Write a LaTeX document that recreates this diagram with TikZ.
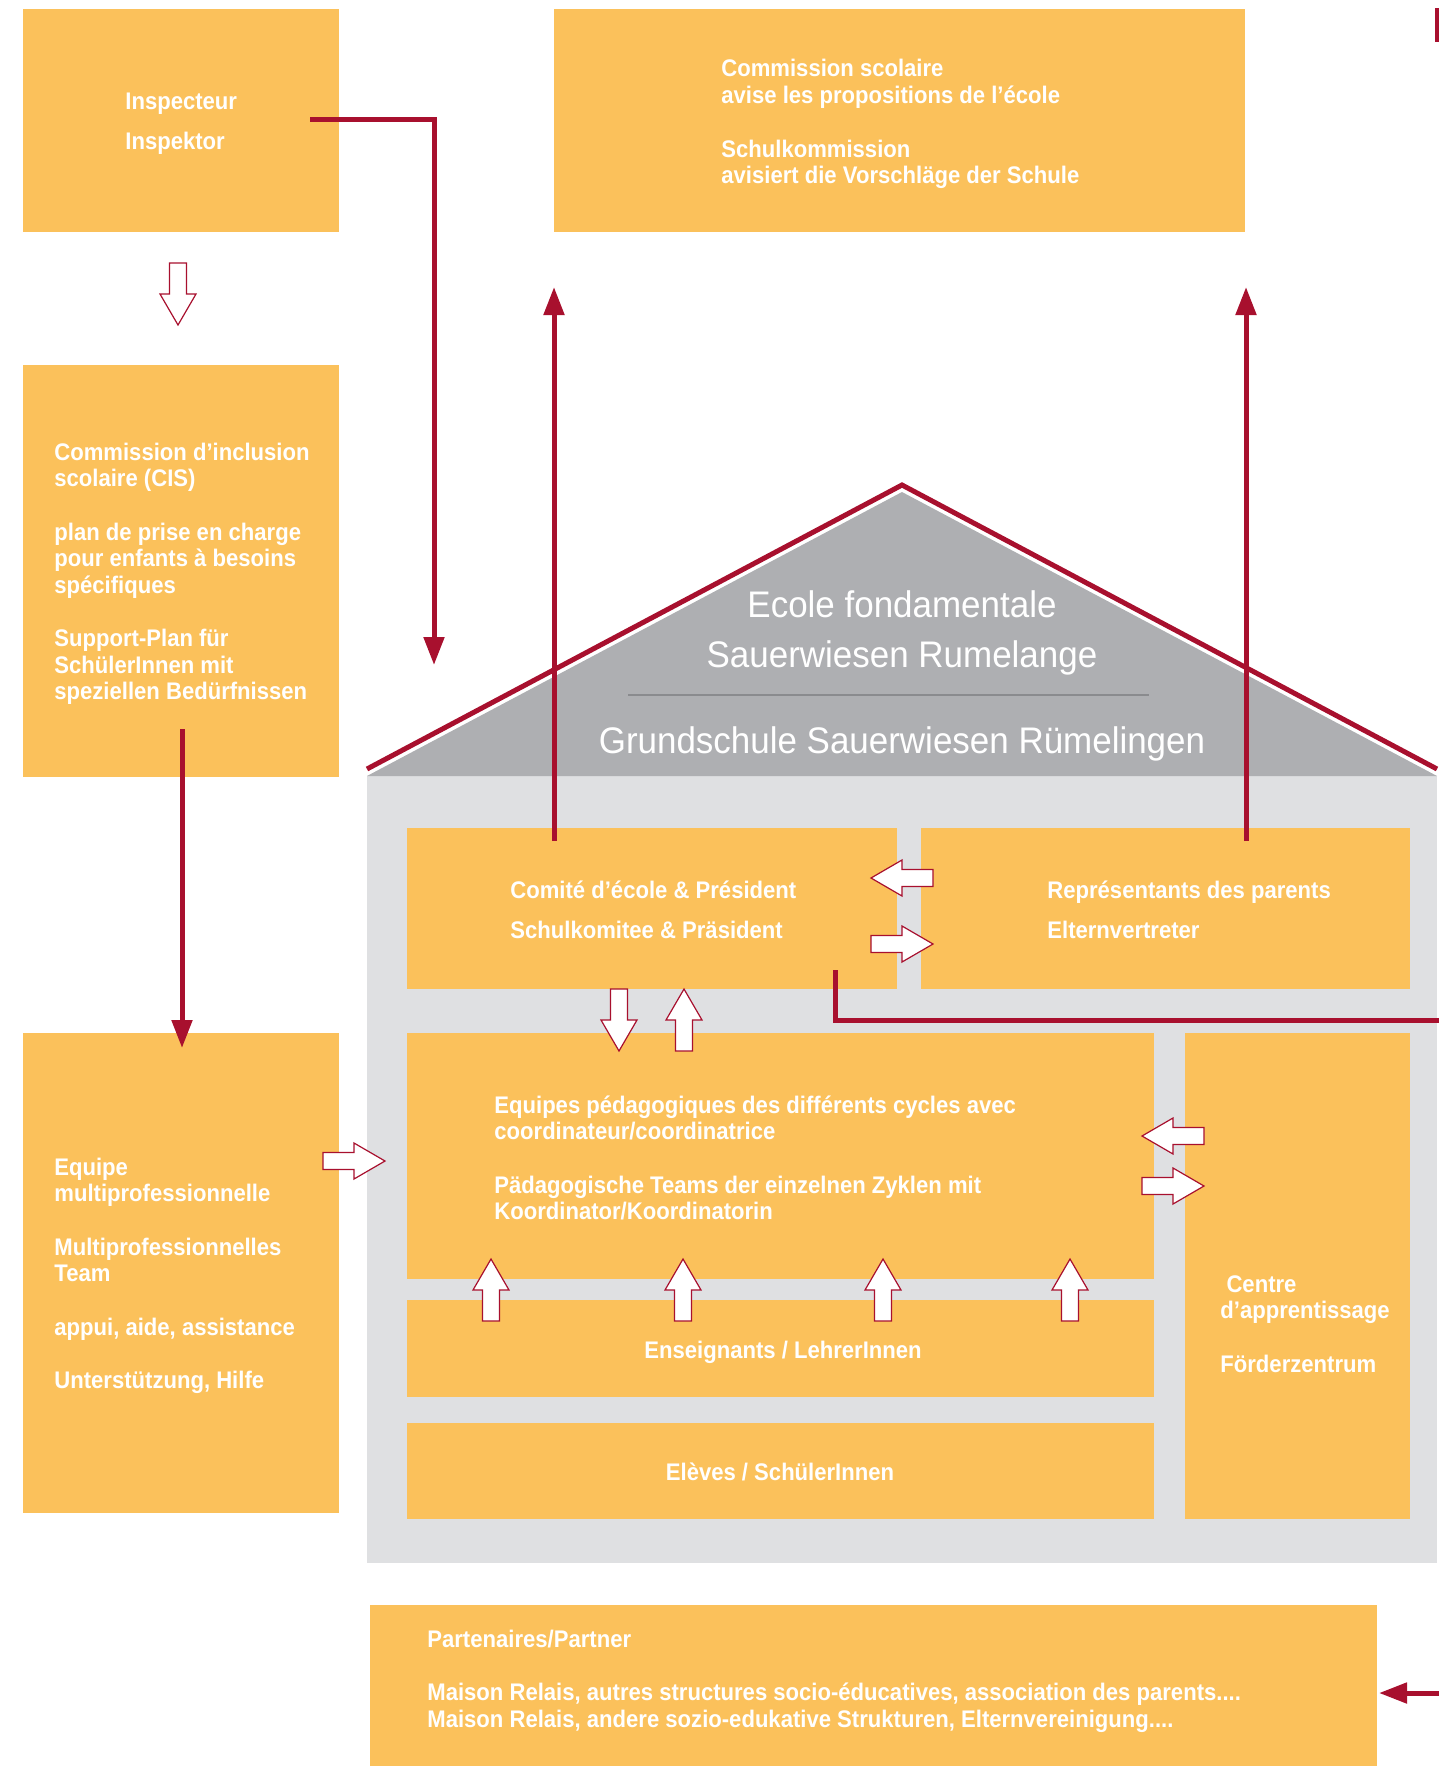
\documentclass[tikz,border=0pt]{standalone}
\usepackage{fontspec}
\setmainfont{Liberation Sans}[FakeStretch=0.92]
\newfontfamily\rooffont{Liberation Sans}[FakeStretch=0.945]
\usepackage{tikz}
\usetikzlibrary{arrows.meta,fit}
\definecolor{boxfill}{HTML}{FBC15B}
\definecolor{wallgrey}{HTML}{DFE0E2}
\definecolor{roofgrey}{HTML}{AEAFB2}
\definecolor{rulegrey}{HTML}{8A8B8E}
\definecolor{linered}{HTML}{A8102E}

\newcommand{\txtlines}[1]{\begin{tabular}[t]{@{}l@{}}#1\end{tabular}}
\newcommand{\blockarrow}[3]{%
  \draw[hollow,shift={(#1,#2)},rotate=#3] (0,-8.5) -- (31,-8.5) -- (31,-18)
    -- (62,0) -- (31,18) -- (31,8.5) -- (0,8.5) -- cycle;}

\tikzset{
  box/.style={fill=boxfill,inner sep=0pt},
  txt/.style={text=white,inner sep=0pt,anchor=base west,
    font=\fontsize{12}{13.25}\selectfont\bfseries},
  rooftxt/.style={text=white,inner sep=0pt,anchor=base,
    font=\rooffont\fontsize{18.5}{20}\selectfont},
  redline/.style={draw=linered,line width=2.5pt},
  redarrow/.style={redline,-{Triangle[length=14pt,width=10pt]}},
  hollow/.style={draw=linered,line width=0.6pt,fill=white}
}

\begin{document}
\begin{tikzpicture}[x=0.5pt,y=-0.5pt]
\useasboundingbox (0,0) rectangle (1439,1766);

% house
\node[fit={(367,776) (1437,1563)},fill=wallgrey,inner sep=0pt] (house) {};
\fill[roofgrey] (367,776) -- (902,492) -- (1437,776) -- cycle;
\draw[redline,line join=miter] (367,769) -- (902,485) -- (1437,769);
\draw[rulegrey,line width=1pt] (628,695) -- (1149,695);

% boxes
\node[box,fit={(23,9) (339,232)}] (insp) {};
\node[box,fit={(554,9) (1245,232)}] (comm) {};
\node[box,fit={(23,365) (339,777)}] (cis) {};
\node[box,fit={(23,1033) (339,1513)}] (multi) {};
\node[box,fit={(407,828) (897,989)}] (comite) {};
\node[box,fit={(921,828) (1410,989)}] (parents) {};
\node[box,fit={(407,1033) (1154,1279)}] (equipes) {};
\node[box,fit={(1185,1033) (1410,1519)}] (centre) {};
\node[box,fit={(407,1300) (1154,1397)}] (enseign) {};
\node[box,fit={(407,1423) (1154,1519)}] (eleves) {};
\node[box,fit={(370,1605) (1377,1766)}] (partner) {};

% red connectors
\coordinate (inspout) at (310,120);
\coordinate (roofin) at (434,665);
\coordinate (cisout) at (182,729);
\coordinate (multiin) at (182,1048);
\coordinate (comup) at (554,841);
\coordinate (comtop) at (554,287);
\coordinate (parup) at (1246,841);
\coordinate (partop) at (1246,287);
\coordinate (comout) at (835,970);
\coordinate (edgeA) at (1439,1020);
\coordinate (edgeB) at (1439,1693);
\coordinate (partin) at (1379,1693);
\draw[redarrow] (inspout) -| (roofin);
\draw[redarrow] (cisout) -- (multiin);
\draw[redarrow] (comup) -- (comtop);
\draw[redarrow] (parup) -- (partop);
\draw[redline] (comout) |- (edgeA);
\draw[redarrow] (edgeB) -- (partin);
\draw[redline] (1437.5,8) -- (1437.5,42);

% hollow arrows
\blockarrow{178}{263}{-90}
\blockarrow{323}{1161}{0}
\blockarrow{933}{878}{180}
\blockarrow{871}{944}{0}
\blockarrow{619}{989}{-90}
\blockarrow{684}{1051}{90}
\blockarrow{1204}{1136}{180}
\blockarrow{1142}{1186}{0}
\foreach \ax in {491,683,883,1070}{
  \blockarrow{\ax}{1321}{90}
}

% texts
\node[rooftxt] (ecole) at (902,617) {Ecole fondamentale};
\node[rooftxt] (sauer) at (902,667) {Sauerwiesen Rumelange};
\node[rooftxt] (grund) at (902,753) {Grundschule Sauerwiesen Rümelingen};

\node[txt] (insptxt) at (125,110) {\txtlines{Inspecteur\\[6.75pt] Inspektor}};
\node[txt] (commtxt) at (721,77) {\txtlines{Commission scolaire\\
  avise les propositions de l’école\\[13.5pt] Schulkommission\\
  avisiert die Vorschläge der Schule}};
\node[txt] (cistxt) at (54,460) {\txtlines{Commission d’inclusion\\
  scolaire (CIS)\\[13.5pt] plan de prise en charge\\ pour enfants à besoins\\
  spécifiques\\[13.5pt] Support-Plan für\\ SchülerInnen mit\\
  speziellen Bedürfnissen}};
\node[txt] (multitxt) at (54,1175) {\txtlines{Equipe\\ multiprofessionnelle\\[13.5pt]
  Multiprofessionnelles\\ Team\\[13.5pt] appui, aide, assistance\\[13.5pt]
  Unterstützung, Hilfe}};
\node[txt] (comitetxt) at (510,898) {\txtlines{Comité d’école \& Président\\[6.75pt]
  Schulkomitee \& Präsident}};
\node[txt] (parentstxt) at (1047,898) {\txtlines{Représentants des parents\\[6.75pt]
  Elternvertreter}};
\node[txt] (equipestxt) at (494,1113) {\txtlines{Equipes pédagogiques des différents cycles avec\\
  coordinateur/coordinatrice\\[13.5pt] Pädagogische Teams der einzelnen Zyklen mit\\
  Koordinator/Koordinatorin}};
\node[txt] (centretxt) at (1220,1292) {\txtlines{\ Centre\\ d’apprentissage\\[13.5pt]
  Förderzentrum}};
\node[txt,anchor=base] (enseigntxt) at (783,1358) {Enseignants / LehrerInnen};
\node[txt,anchor=base] (elevestxt) at (780,1480) {Elèves / SchülerInnen};
\node[txt] (partnertxt) at (427,1647) {\txtlines{Partenaires/Partner\\[13.5pt]
  Maison Relais, autres structures socio-éducatives, association des parents....\\
  Maison Relais, andere sozio-edukative Strukturen, Elternvereinigung....}};
\end{tikzpicture}
\end{document}
